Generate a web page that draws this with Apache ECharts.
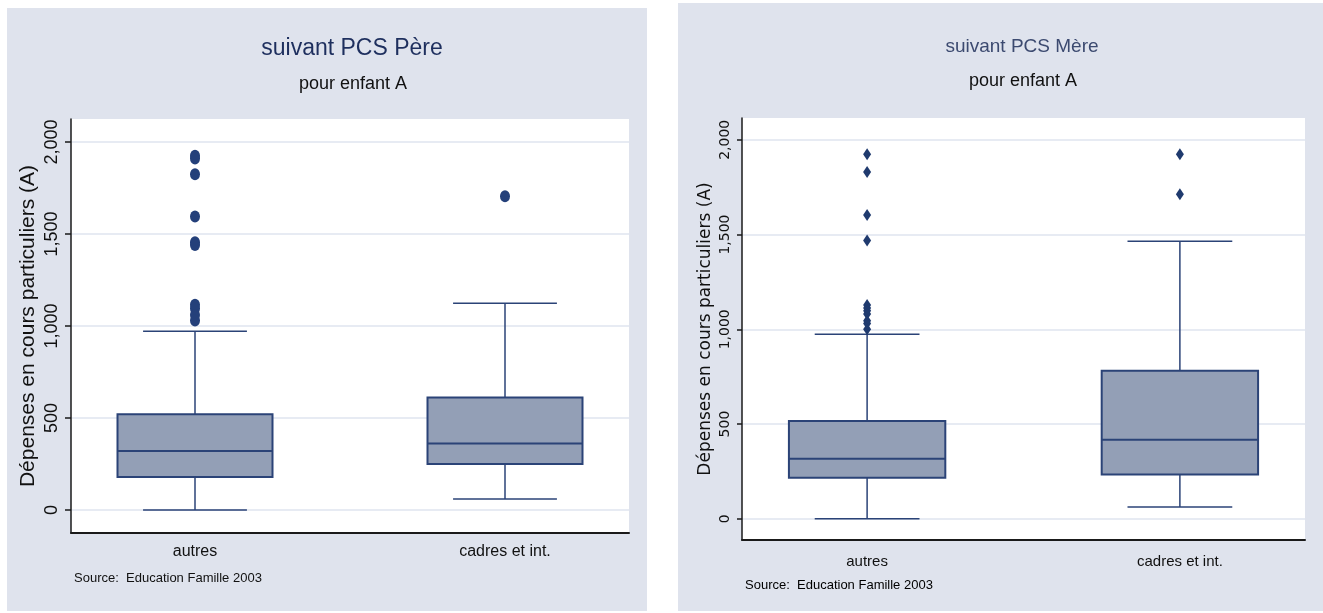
<!DOCTYPE html>
<html>
<head>
<meta charset="utf-8">
<script src="https://cdn.jsdelivr.net/npm/echarts@6.0.0/dist/echarts.min.js"></script>
<style>
  html, body { margin: 0; padding: 0; background: #fff; }
  #main { width: 1323px; height: 613px; }
</style>
</head>
<body>
<div id="main"></div>
<script>
// data
var categories = ['autres', 'cadres et int.']
var yTicks = [0, 500, 1000, 1500, 2000]
// [lower whisker, Q1, median, Q3, upper whisker]
var pereBoxes = [[0, 180, 320, 520, 972], [60, 250, 362, 612, 1124]]
var pereOutliers = [[1925, 1910, 1825, 1595, 1455, 1440, 1115, 1095, 1060, 1030], [1705]]
var mereBoxes = [[0, 216, 317, 516, 974], [62, 234, 417, 781, 1465]]
var mereOutliers = [[1924, 1830, 1603, 1468, 1128, 1112, 1098, 1080, 1045, 1030, 1000], [1924, 1713]]

var NAVY = '#2b4377'
var BOX_W = 0.5
var CAP_W = 0.335
var SANS = "'Liberation Sans', Arial, sans-serif"
var DEJAVU = "'DejaVu Sans', sans-serif"

function boxData (boxes) {
  return boxes.map(function (b, i) { return [i].concat(b) })
}
function outlierData (outs) {
  var res = []
  outs.forEach(function (list, i) {
    list.forEach(function (v) { res.push([i, v]) })
  })
  return res
}
function fmt (v) {
  return String(v).replace(/\B(?=(\d{3})+(?!\d))/g, ',')
}

function renderBox (params, api) {
  var x = api.value(0)
  var lo = api.coord([x, api.value(1)])
  var q1 = api.coord([x, api.value(2)])
  var med = api.coord([x, api.value(3)])
  var q3 = api.coord([x, api.value(4)])
  var hi = api.coord([x, api.value(5)])
  var bw = api.size([BOX_W, 0])[0]
  var cw = api.size([CAP_W, 0])[0]
  var cx = lo[0]
  var thin = { stroke: NAVY, lineWidth: 1.5 }
  return {
    type: 'group',
    children: [
      { type: 'line', shape: { x1: cx, y1: q1[1], x2: cx, y2: lo[1] }, style: thin },
      { type: 'line', shape: { x1: cx, y1: q3[1], x2: cx, y2: hi[1] }, style: thin },
      { type: 'line', shape: { x1: cx - cw / 2, y1: lo[1], x2: cx + cw / 2, y2: lo[1] }, style: thin },
      { type: 'line', shape: { x1: cx - cw / 2, y1: hi[1], x2: cx + cw / 2, y2: hi[1] }, style: thin },
      { type: 'rect', shape: { x: cx - bw / 2, y: q3[1], width: bw, height: q1[1] - q3[1] }, style: { fill: '#939fb6', stroke: NAVY, lineWidth: 2 } },
      { type: 'line', shape: { x1: cx - bw / 2, y1: med[1], x2: cx + bw / 2, y2: med[1] }, style: { stroke: NAVY, lineWidth: 2 } }
    ]
  }
}

function xAxisFor (gi, font, size, margin) {
  return {
    gridIndex: gi,
    type: 'value',
    min: -0.4,
    max: 1.4,
    axisLine: { show: true, onZero: false, lineStyle: { color: '#1a1a1a', width: 2 } },
    axisTick: { show: false },
    splitLine: { show: false },
    axisLabel: {
      customValues: [0, 1],
      formatter: function (v) { return categories[Math.round(v)] },
      margin: margin,
      color: '#111',
      fontFamily: font,
      fontSize: size
    }
  }
}

function yAxisFor (gi, min, max, o) {
  return {
    gridIndex: gi,
    type: 'value',
    min: min,
    max: max,
    name: 'Dépenses en cours particuliers (A)',
    nameLocation: 'middle',
    nameGap: o.nameGap,
    nameTextStyle: { color: '#111', fontFamily: o.font, fontSize: o.nameSize },
    axisLine: { show: true, onZero: false, lineStyle: { color: '#1a1a1a', width: 1.5 } },
    axisTick: { show: true, length: o.tick, customValues: yTicks, lineStyle: { color: '#1a1a1a', width: 1.5 } },
    axisLabel: {
      customValues: yTicks,
      rotate: 90,
      margin: o.margin,
      formatter: fmt,
      color: '#111',
      fontFamily: o.font,
      fontSize: o.labelSize
    },
    splitLine: { show: true, lineStyle: { color: '#dfe5ef', width: 1.5 } }
  }
}

var myChart = echarts.init(document.getElementById('main'), null, { renderer: 'canvas' })
var option = {
  animation: false,
  backgroundColor: '#ffffff',
  graphic: [
    { type: 'rect', z: -10, shape: { x: 7, y: 8, width: 640, height: 603 }, style: { fill: '#dfe3ed' } },
    { type: 'rect', z: -10, shape: { x: 678, y: 3, width: 645, height: 608 }, style: { fill: '#dfe3ed' } },
    { type: 'text', x: 352, y: 49, style: { text: 'suivant PCS Père', fill: '#1e2f5e', font: '23px ' + SANS, textAlign: 'center', textVerticalAlign: 'middle', align: 'center', verticalAlign: 'middle' } },
    { type: 'text', x: 353, y: 84, style: { text: 'pour enfant A', fill: '#111', font: '18px ' + SANS, textAlign: 'center', textVerticalAlign: 'middle', align: 'center', verticalAlign: 'middle' } },
    { type: 'text', x: 74, y: 578, style: { text: 'Source:  Education Famille 2003', fill: '#111', font: '13px ' + SANS, textAlign: 'left', textVerticalAlign: 'middle', align: 'left', verticalAlign: 'middle' } },
    { type: 'text', x: 1022, y: 47, style: { text: 'suivant PCS Mère', fill: '#3c4a70', font: '19px ' + SANS, textAlign: 'center', textVerticalAlign: 'middle', align: 'center', verticalAlign: 'middle' } },
    { type: 'text', x: 1023, y: 81, style: { text: 'pour enfant A', fill: '#111', font: '18px ' + SANS, textAlign: 'center', textVerticalAlign: 'middle', align: 'center', verticalAlign: 'middle' } },
    { type: 'text', x: 745, y: 585, style: { text: 'Source:  Education Famille 2003', fill: '#000', font: '13px ' + SANS, textAlign: 'left', textVerticalAlign: 'middle', align: 'left', verticalAlign: 'middle' } }
  ],
  grid: [
    { left: 71, top: 119, width: 558, height: 414, show: true, backgroundColor: '#ffffff', borderWidth: 0 },
    { left: 742, top: 118, width: 563, height: 422, show: true, backgroundColor: '#ffffff', borderWidth: 0 }
  ],
  xAxis: [
    xAxisFor(0, SANS, 16, 11),
    xAxisFor(1, SANS, 15, 14)
  ],
  yAxis: [
    yAxisFor(0, -125, 2125, { font: SANS, labelSize: 18, nameSize: 21, nameGap: 32, margin: 10, tick: 6 }),
    yAxisFor(1, -112, 2115, { font: DEJAVU, labelSize: 14, nameSize: 17, nameGap: 28, margin: 10, tick: 5 })
  ],
  series: [
    {
      type: 'custom',
      xAxisIndex: 0,
      yAxisIndex: 0,
      renderItem: renderBox,
      encode: { x: 0, y: [1, 2, 3, 4, 5] },
      data: boxData(pereBoxes)
    },
    {
      type: 'scatter',
      xAxisIndex: 0,
      yAxisIndex: 0,
      symbol: 'circle',
      symbolSize: [10, 12],
      itemStyle: { color: '#24407a', opacity: 1 },
      data: outlierData(pereOutliers)
    },
    {
      type: 'custom',
      xAxisIndex: 1,
      yAxisIndex: 1,
      renderItem: renderBox,
      encode: { x: 0, y: [1, 2, 3, 4, 5] },
      data: boxData(mereBoxes)
    },
    {
      type: 'scatter',
      xAxisIndex: 1,
      yAxisIndex: 1,
      symbol: 'diamond',
      symbolSize: [8, 12],
      itemStyle: { color: '#1f3a6e', opacity: 1 },
      data: outlierData(mereOutliers)
    }
  ]
}
myChart.setOption(option)
</script>
</body>
</html>
